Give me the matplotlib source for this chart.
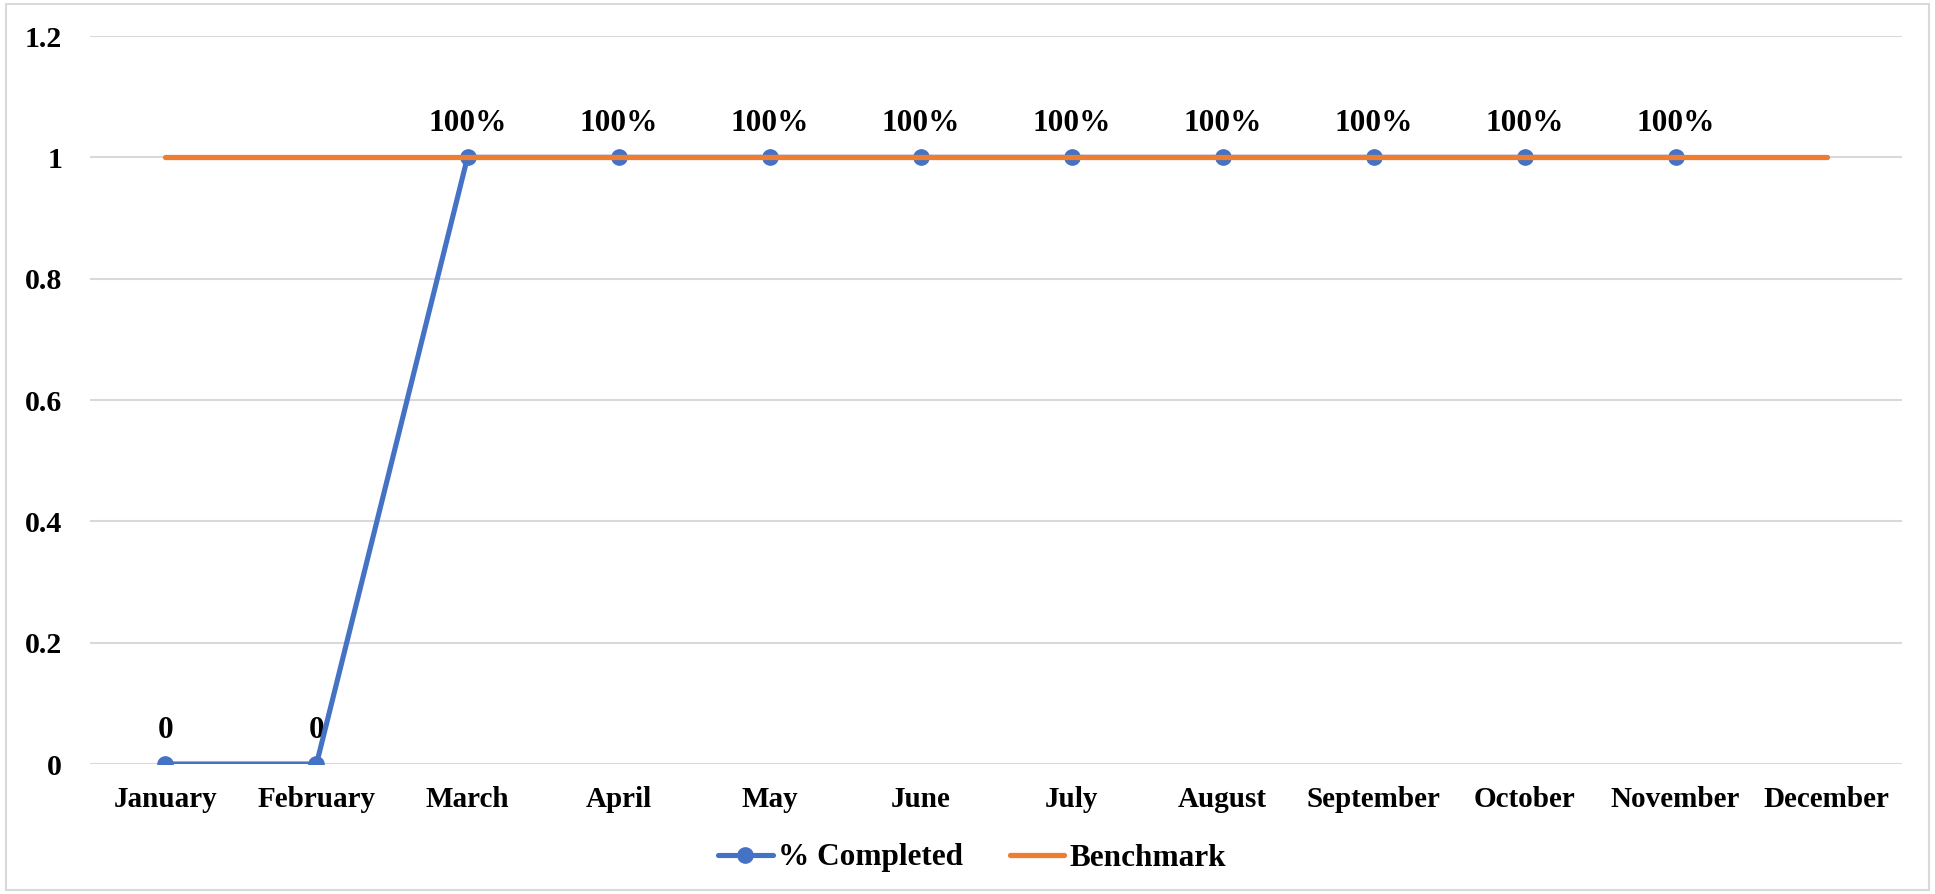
import matplotlib.pyplot as plt
from matplotlib.patches import Rectangle

months = ["January", "February", "March", "April", "May", "June", "July",
          "August", "September", "October", "November", "December"]
completed = [0, 0, 1, 1, 1, 1, 1, 1, 1, 1, 1]
benchmark = [1, 1, 1, 1, 1, 1, 1, 1, 1, 1, 1, 1]
yticks = [0, 0.2, 0.4, 0.6, 0.8, 1, 1.2]
ytick_labels = ["0", "0.2", "0.4", "0.6", "0.8", "1", "1.2"]

plt.rcParams['font.family'] = ['Liberation Serif', 'DejaVu Serif']
plt.rcParams['font.weight'] = 'bold'

fig = plt.figure(figsize=(19.35, 8.94), dpi=100)
ax = fig.add_axes([0.0465, 0.1454, 0.9365, 0.8143])

x_c = list(range(len(completed)))
x_b = list(range(len(benchmark)))
ax.plot(x_c, completed, color='#4472C4', lw=3.7, marker='o', ms=11,
        solid_capstyle='round', label='% Completed', zorder=3)
ax.plot(x_b, benchmark, color='#ED7D31', lw=3.8, solid_capstyle='round',
        label='Benchmark', zorder=4)

for x, v in zip(x_c, completed):
    txt = "0" if v == 0 else f"{v:.0%}"
    ax.annotate(txt, (x, v), xytext=(0, 14), textcoords='offset points',
                ha='center', va='bottom', fontsize=22.5, fontweight='bold', zorder=2)

ax.set_xlim(-0.5, len(months) - 0.5)
ax.set_ylim(0, 1.2)
ax.set_xticks(range(len(months)))
ax.set_xticklabels(months, fontsize=21, fontweight='bold')
ax.set_yticks(yticks)
ax.set_yticklabels(ytick_labels, fontsize=21.5, fontweight='bold')
ax.tick_params(axis='x', length=0, pad=16)
ax.tick_params(axis='y', length=0, pad=20)
ax.grid(axis='y', color='#D9D9D9', lw=1.5)
ax.set_axisbelow(True)
for s in ax.spines.values():
    s.set_visible(False)

leg = fig.legend(loc='center', bbox_to_anchor=(972 / 1935, 1 - 858 / 894), ncol=2,
                 frameon=False, fontsize=22.5, handlelength=1.75, handletextpad=0.16,
                 columnspacing=1.5)

fig.patches.append(Rectangle((0.003, 0.004), 0.994, 0.992, transform=fig.transFigure,
                             fill=False, edgecolor='#D9D9D9', lw=1.5))

fig.savefig("out.png", dpi=100)
